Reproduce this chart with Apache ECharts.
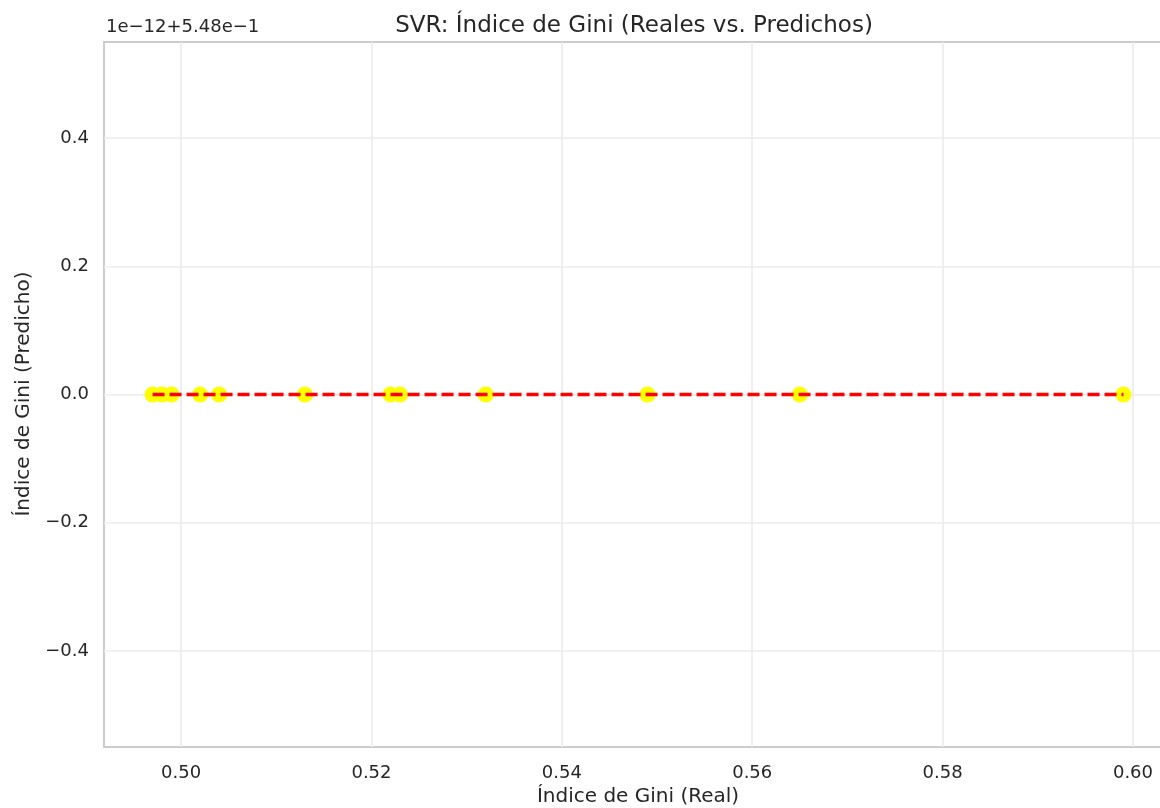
<!DOCTYPE html>
<html>
<head>
<meta charset="utf-8">
<script src="https://cdn.jsdelivr.net/npm/echarts@6/dist/echarts.min.js"></script>
<style>html,body{margin:0;padding:0;background:#fff}#c{width:1160px;height:808px}</style>
</head>
<body>
<div id="c"></div>
<script>
// Data (y values are relative to the axis offset 1e-12 + 5.48e-1)
const realValues = [0.497, 0.498, 0.499, 0.502, 0.504, 0.513, 0.522, 0.523, 0.532, 0.549, 0.565, 0.599];
const predictedValues = [0, 0, 0, 0, 0, 0, 0, 0, 0, 0, 0, 0];
const xTicks = [0.50, 0.52, 0.54, 0.56, 0.58, 0.60];
const yTicks = [-0.4, -0.2, 0.0, 0.2, 0.4];
const idealLine = [[0.497, 0], [0.599, 0]];
const offsetText = '1e\u221212+5.48e\u22121';

const FONT = 'DejaVu Sans';
const TXT = '#262626';
const chart = echarts.init(document.getElementById('c'), null, {renderer: 'canvas'});
const fmtMinus = s => s.replace('-', '\u2212');

chart.setOption({
  backgroundColor: '#ffffff',
  animation: false,
  grid: {left: 104, top: 42, width: 1068, height: 705, outerBoundsMode: 'none', containLabel: false,
         show: true, borderColor: '#cccccc', borderWidth: 2, backgroundColor: 'transparent'},
  xAxis: {
    type: 'value', min: 0.4919, max: 0.6041,
    axisLine: {show: false},
    axisTick: {show: false, customValues: xTicks},
    axisLabel: {customValues: xTicks, formatter: v => v.toFixed(2), fontFamily: FONT, fontSize: 18, color: TXT, margin: 17},
    splitLine: {show: true, lineStyle: {color: '#ebebeb', width: 1.6}}
  },
  yAxis: {
    type: 'value', min: -0.55, max: 0.55,
    axisLine: {show: false},
    axisTick: {show: false, customValues: yTicks},
    axisLabel: {customValues: yTicks, formatter: v => fmtMinus(v.toFixed(1)), fontFamily: FONT, fontSize: 18, color: TXT, margin: 15},
    splitLine: {show: true, lineStyle: {color: '#ebebeb', width: 1.6}}
  },
  series: [
    {
      type: 'scatter', data: realValues.map((x, i) => [x, predictedValues[i]]),
      symbol: 'circle', symbolSize: 16, itemStyle: {color: '#ffff00', opacity: 1}, z: 2
    },
    {
      type: 'line', data: idealLine, symbol: 'none',
      lineStyle: {color: '#ff0000', width: 3.3, type: [12, 5]}, z: 3
    }
  ],
  graphic: [
    {type: 'text', left: 106, top: 18, style: {text: offsetText, font: '18px "DejaVu Sans"', fill: TXT}},
    {type: 'text', x: 634, y: 26, style: {text: 'SVR: \u00cdndice de Gini (Reales vs. Predichos)', font: '23px "DejaVu Sans"', fill: TXT, align: 'center', verticalAlign: 'middle'}},
    {type: 'text', x: 638, y: 797, style: {text: '\u00cdndice de Gini (Real)', font: '20px "DejaVu Sans"', fill: TXT, align: 'center', verticalAlign: 'middle'}},
    {type: 'text', x: 24, y: 394, rotation: Math.PI / 2, style: {text: '\u00cdndice de Gini (Predicho)', font: '20px "DejaVu Sans"', fill: TXT, align: 'center', verticalAlign: 'middle'}}
  ]
});
</script>
</body>
</html>
